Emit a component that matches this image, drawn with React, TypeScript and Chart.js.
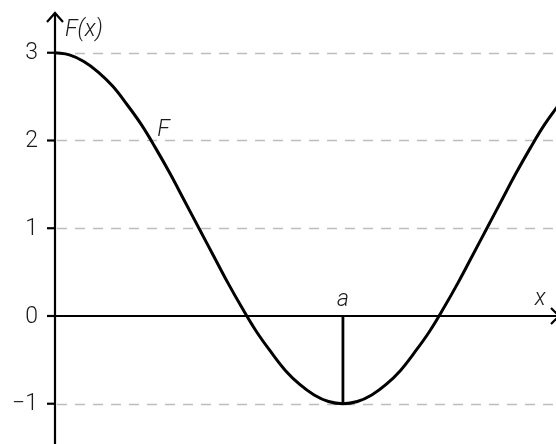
import React, { useEffect, useRef } from "react";
import { Chart, registerables } from "chart.js";

Chart.register(...registerables);

// x in units of a (a = 1)
const xValues = [0, 0.05, 0.1, 0.15, 0.2, 0.25, 0.3, 0.35, 0.4, 0.45, 0.5, 0.55, 0.6, 0.65, 0.7, 0.75, 0.8, 0.85, 0.9, 0.95, 1.0, 1.05, 1.1, 1.15, 1.2, 1.25, 1.3, 1.35, 1.4, 1.45, 1.5, 1.55, 1.6, 1.65, 1.7, 1.75];
const fValues = [3.0, 2.975, 2.9, 2.78, 2.62, 2.41, 2.18, 1.91, 1.62, 1.31, 1.0, 0.69, 0.38, 0.09, -0.18, -0.41, -0.62, -0.78, -0.9, -0.975, -1.0, -0.975, -0.9, -0.78, -0.62, -0.41, -0.18, 0.09, 0.38, 0.69, 1.0, 1.31, 1.62, 1.91, 2.18, 2.41];
const yTicks = [3, 2, 1, 0, -1];
const yTickLabels = ["3", "2", "1", "0", "\u22121"];
const aValue = 1;
const aMin = -1;
const curveLabel = "F";
const yAxisLabel = "F(x)";
const xAxisLabel = "x";
const aLabel = "a";

const FONT = 'Roboto, "Liberation Sans", Arial, sans-serif';

const overlay = {
  id: "overlay",
  beforeDatasetsDraw(chart: any) {
    const { ctx, scales } = chart;
    const xs = scales.x;
    const ys = scales.y;
    const x0 = xs.getPixelForValue(0);
    const right = chart.width;
    ctx.save();
    // dashed grid lines
    ctx.strokeStyle = "#bdbdbd";
    ctx.lineWidth = 1.5;
    ctx.setLineDash([10, 8]);
    yTicks.forEach((t) => {
      if (t === 0) return;
      const y = Math.round(ys.getPixelForValue(t)) + 0.5;
      ctx.beginPath();
      ctx.moveTo(x0 + 2, y);
      ctx.lineTo(right, y);
      ctx.stroke();
    });
    ctx.setLineDash([]);
    // x axis
    ctx.strokeStyle = "#000";
    ctx.lineWidth = 2.2;
    const y0 = ys.getPixelForValue(0);
    ctx.beginPath();
    ctx.moveTo(x0, y0);
    ctx.lineTo(right, y0);
    ctx.stroke();
    // x arrow (tip just beyond the canvas)
    ctx.beginPath();
    ctx.moveTo(right - 5, y0 - 8);
    ctx.lineTo(right + 3, y0);
    ctx.lineTo(right - 5, y0 + 8);
    ctx.stroke();
    // y axis
    ctx.beginPath();
    ctx.moveTo(x0, chart.height);
    ctx.lineTo(x0, 13);
    ctx.stroke();
    ctx.beginPath();
    ctx.moveTo(x0 - 8, 22);
    ctx.lineTo(x0, 13);
    ctx.lineTo(x0 + 8, 22);
    ctx.stroke();
    // tick marks + labels
    ctx.font = `300 23px ${FONT}`;
    ctx.fillStyle = "#1a1a1a";
    ctx.textAlign = "right";
    ctx.textBaseline = "middle";
    yTicks.forEach((t, i) => {
      const y = ys.getPixelForValue(t);
      ctx.beginPath();
      ctx.moveTo(x0 - 8, y);
      ctx.lineTo(x0, y);
      ctx.stroke();
      ctx.fillText(yTickLabels[i], x0 - 17, y + 1);
    });
    // vertical line at a
    const xa = xs.getPixelForValue(aValue);
    ctx.lineWidth = 2.8;
    ctx.beginPath();
    ctx.moveTo(xa, y0);
    ctx.lineTo(xa, ys.getPixelForValue(aMin));
    ctx.stroke();
    // text labels
    ctx.font = `italic 300 23px ${FONT}`;
    ctx.textAlign = "left";
    ctx.textBaseline = "alphabetic";
    ctx.fillText(yAxisLabel, x0 + 10, 36);
    ctx.fillText(curveLabel, xs.getPixelForValue(0.355), ys.getPixelForValue(2.05));
    ctx.textAlign = "center";
    ctx.fillText(aLabel, xa, y0 - 10);
    ctx.fillText(xAxisLabel, xs.getPixelForValue(1.685), y0 - 11);
    ctx.restore();
  },
};

export default function App() {
  const ref = useRef<HTMLCanvasElement>(null);
  useEffect(() => {
    if (!ref.current) return;
    const chart = new Chart(ref.current, {
      type: "line",
      data: {
        datasets: [
          {
            data: xValues.map((x, i) => ({ x, y: fValues[i] })),
            borderColor: "#000",
            borderWidth: 3,
            pointRadius: 0,
            tension: 0.4,
            fill: false,
          },
        ],
      },
      options: {
        animation: false,
        responsive: false,
        maintainAspectRatio: false,
        layout: { padding: { left: 55, right: 0, top: 0, bottom: 0 } },
        plugins: { legend: { display: false }, tooltip: { enabled: false } },
        scales: {
          x: { type: "linear", min: 0, max: 1.74, display: false },
          y: { type: "linear", min: -1.459, max: 3.601, display: false },
        },
      },
      plugins: [overlay],
    });
    return () => chart.destroy();
  }, []);
  return (
    <div style={{ position: "fixed", left: 0, top: 0, width: 556, height: 444, background: "#fff" }}>
      <canvas ref={ref} width={556} height={444} />
    </div>
  );
}
